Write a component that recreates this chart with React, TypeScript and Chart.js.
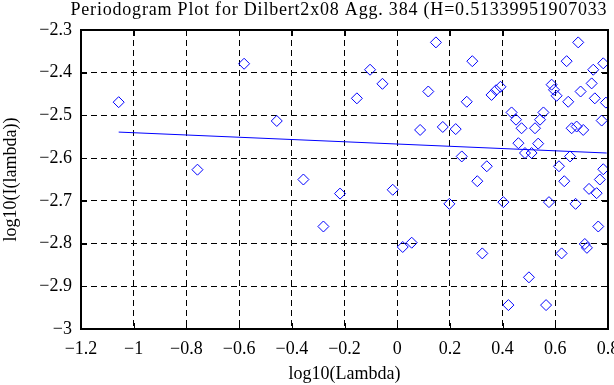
import React, { useEffect, useRef } from "react";
import { Chart, registerables } from "chart.js";

Chart.register(...registerables);

const TITLE = "Periodogram Plot for Dilbert2x08 Agg. 384 (H=0.51339951907033";
const X_LABEL = "log10(Lambda)";
const Y_LABEL = "log10(I(lambda))";

const X_MIN = -1.2;
const X_MAX = 0.8;
const X_STEP = 0.2;
const Y_MIN = -3;
const Y_MAX = -2.3;
const Y_STEP = 0.1;

const lambdaX = [
  -1.057, -0.758, -0.581, -0.457, -0.356, -0.28, -0.217, -0.153, -0.103, -0.056,
  -0.017, 0.021, 0.055, 0.087, 0.118, 0.147, 0.173, 0.198, 0.222, 0.245,
  0.264, 0.285, 0.304, 0.323, 0.34, 0.358, 0.375, 0.392, 0.403, 0.422,
  0.434, 0.451, 0.46, 0.472, 0.485, 0.5, 0.51, 0.523, 0.535, 0.542,
  0.555, 0.565, 0.576, 0.586, 0.595, 0.605, 0.614, 0.624, 0.634, 0.643,
  0.649, 0.656, 0.662, 0.677, 0.681, 0.687, 0.696, 0.706, 0.712, 0.72,
  0.728, 0.738, 0.744, 0.75, 0.757, 0.763, 0.769, 0.776, 0.782, 0.782,
  0.792,
];

const periodY = [
  -2.469, -2.627, -2.379, -2.513, -2.65, -2.76, -2.683, -2.46, -2.393, -2.426,
  -2.674, -2.808, -2.798, -2.534, -2.444, -2.329, -2.527, -2.707, -2.532, -2.596,
  -2.468, -2.373, -2.654, -2.823, -2.619, -2.452, -2.441, -2.433, -2.703, -2.944,
  -2.493, -2.51, -2.565, -2.53, -2.588, -2.879, -2.588, -2.53, -2.566, -2.51,
  -2.493, -2.944, -2.703, -2.428, -2.44, -2.454, -2.619, -2.823, -2.654, -2.373,
  -2.468, -2.596, -2.53, -2.707, -2.526, -2.329, -2.444, -2.534, -2.801, -2.81,
  -2.672, -2.425, -2.393, -2.46, -2.682, -2.76, -2.65, -2.512, -2.378, -2.626,
  -2.47,
];

const fitX = [-1.057, 0.795];
const fitY = [-2.539, -2.588];

const FONT_FAMILY = '"Liberation Serif", "Times New Roman", serif';
const BLUE = "#0000ff";

function fmt(v: number): string {
  let s = parseFloat(Number(v).toFixed(2)).toString();
  if (s === "-0") s = "0";
  return s.replace("-", "\u2212");
}

const framePlugin = {
  id: "matlabFrame",
  afterDraw(chart: any) {
    const { ctx, chartArea, scales } = chart;
    const { left, right, top, bottom } = chartArea;
    ctx.save();
    ctx.strokeStyle = "#000";
    ctx.setLineDash([]);
    ctx.lineWidth = 1;
    const tl = 6;
    ctx.beginPath();
    scales.x.ticks.forEach((t: any) => {
      const px = Math.round(scales.x.getPixelForValue(t.value)) + 0.5;
      ctx.moveTo(px, bottom);
      ctx.lineTo(px, bottom - tl);
      ctx.moveTo(px, top);
      ctx.lineTo(px, top + tl);
    });
    scales.y.ticks.forEach((t: any) => {
      const py = Math.round(scales.y.getPixelForValue(t.value)) + 0.5;
      ctx.moveTo(left, py);
      ctx.lineTo(left + tl, py);
      ctx.moveTo(right, py);
      ctx.lineTo(right - tl, py);
    });
    ctx.stroke();
    ctx.lineWidth = 2;
    ctx.strokeRect(left, top, right - left, bottom - top);
    ctx.fillStyle = "#000";
    ctx.font = `18px ${FONT_FAMILY}`;
    ctx.textAlign = "left";
    ctx.textBaseline = "alphabetic";
    try {
      (ctx as any).letterSpacing = "0.8px";
    } catch (e) {}
    ctx.fillText(TITLE, 70.5, 14.5);
    ctx.restore();
  },
};

export default function App() {
  const ref = useRef<HTMLCanvasElement | null>(null);

  useEffect(() => {
    if (!ref.current) return;
    const points = lambdaX.map((x, i) => ({ x, y: periodY[i] }));
    const fit = fitX.map((x, i) => ({ x, y: fitY[i] }));
    const chart = new Chart(ref.current, {
      type: "scatter",
      data: {
        datasets: [
          {
            type: "scatter",
            data: points,
            pointStyle: "rectRot",
            pointRadius: 5.5,
            pointBorderColor: BLUE,
            pointBackgroundColor: "rgba(0,0,0,0)",
            pointBorderWidth: 1,
            borderColor: BLUE,
          } as any,
          {
            type: "line",
            data: fit,
            borderColor: BLUE,
            borderWidth: 1,
            pointRadius: 0,
            fill: false,
            tension: 0,
          } as any,
        ],
      },
      plugins: [framePlugin],
      options: {
        animation: false,
        responsive: false,
        events: [],
        layout: { padding: { top: 30, right: 6, left: 0, bottom: 0 }, autoPadding: false },
        plugins: {
          legend: { display: false },
          tooltip: { enabled: false },
          title: { display: false },
        },
        scales: {
          x: {
            type: "linear",
            min: X_MIN,
            max: X_MAX,
            afterFit: (s: any) => {
              s.height = 56;
              s.paddingLeft = 0;
              s.paddingRight = 0;
            },
            ticks: {
              stepSize: X_STEP,
              color: "#000",
              padding: 9,
              maxRotation: 0,
              autoSkip: false,
              font: { family: FONT_FAMILY, size: 18 },
              callback: (v: any) => fmt(v),
            },
            grid: { color: "#000", lineWidth: 1, drawTicks: false },
            border: { display: false, dash: [6, 4] },
            title: {
              display: true,
              text: X_LABEL,
              color: "#000",
              padding: 0,
              font: { family: FONT_FAMILY, size: 18 },
            },
          },
          y: {
            type: "linear",
            min: Y_MIN,
            max: Y_MAX,
            afterFit: (s: any) => {
              s.width = 81;
              s.paddingTop = 0;
              s.paddingBottom = 0;
            },
            ticks: {
              stepSize: Y_STEP,
              color: "#000",
              padding: 9,
              autoSkip: false,
              font: { family: FONT_FAMILY, size: 18 },
              callback: (v: any) => fmt(v),
            },
            grid: { color: "#000", lineWidth: 1, drawTicks: false },
            border: { display: false, dash: [6, 4] },
            title: {
              display: true,
              text: Y_LABEL,
              color: "#000",
              padding: 0,
              font: { family: FONT_FAMILY, size: 18 },
            },
          },
        },
      } as any,
    });
    return () => chart.destroy();
  }, []);

  return (
    <div style={{ position: "absolute", left: 0, top: 0, width: 614, height: 385, background: "#fff" }}>
      <canvas ref={ref} width={614} height={385} style={{ display: "block", width: 614, height: 385 }} />
    </div>
  );
}
